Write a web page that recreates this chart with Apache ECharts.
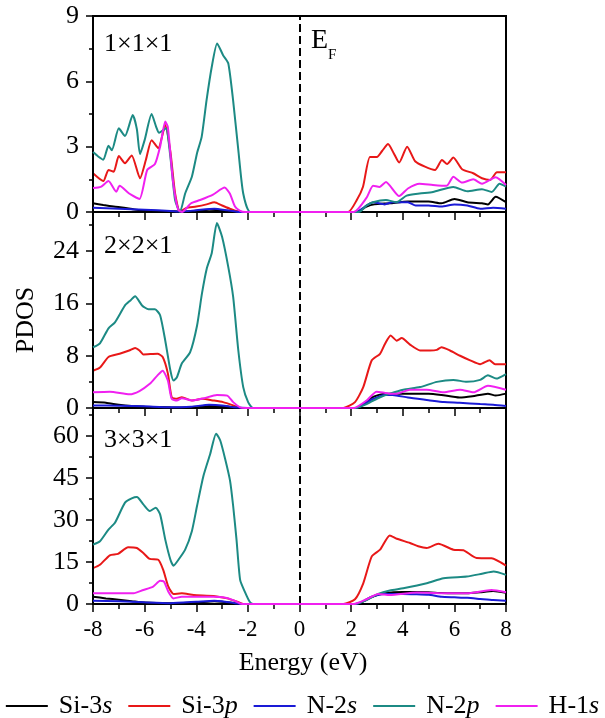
<!DOCTYPE html>
<html>
<head>
<meta charset="utf-8">
<script src="https://cdn.jsdelivr.net/npm/echarts@6/dist/echarts.min.js"></script>
<style>html,body{margin:0;padding:0;background:#fff}#c{width:605px;height:718px}</style>
</head>
<body>
<div id="c"></div>
<script>
// ---------- data ----------
const seriesNames = ['Si-3s', 'Si-3p', 'N-2s', 'N-2p', 'H-1s'];
const panelLabels = ['1×1×1', '2×2×1', '3×3×1'];
const xTicks = [-8, -6, -4, -2, 0, 2, 4, 6, 8];
const yMax = [9, 30, 70];
const yMajorTicks = [[0, 3, 6, 9], [0, 8, 16, 24], [0, 15, 30, 45, 60]];
const yMinorTicks = [[1.5, 4.5, 7.5], [4, 12, 20, 28], [7.5, 22.5, 37.5, 52.5, 67.5]];

// Panel 1 (1x1x1)
const p1_Si3s = [[-8,0.4],[-7.6,0.32],[-7.2,0.25],[-6.8,0.2],[-6.4,0.12],[-6,0.08],[-5.5,0.05],[-5,0.04],[-4.6,0.02],[-4,0.06],[-3.5,0.1],[-3,0.08],[-2.6,0.03],[-2.2,0],[0,0],[2.2,0],[2.6,0.25],[2.9,0.35],[3.5,0.4],[4.2,0.48],[5,0.48],[5.5,0.4],[6,0.6],[6.5,0.45],[7.07,0.4],[7.3,0.35],[7.6,0.7],[8,0.45]];
const p1_Si3p = [[-8,1.78],[-7.6,1.42],[-7.4,1.93],[-7.2,1.85],[-7.0,2.57],[-6.76,2.24],[-6.5,2.6],[-6.18,1.55],[-5.95,2.4],[-5.73,3.3],[-5.47,2.93],[-5.2,4.0],[-5.0,2.75],[-4.82,0.85],[-4.63,0],[-4.4,0.18],[-4.0,0.25],[-3.6,0.35],[-3.3,0.45],[-3.0,0.3],[-2.7,0.15],[-2.3,0],[0,0],[1.88,0],[2.22,0.55],[2.46,1.16],[2.73,2.53],[3.0,2.53],[3.2,2.8],[3.43,3.12],[3.65,2.7],[3.86,2.27],[4.17,3.0],[4.48,2.33],[4.86,2.08],[5.25,1.93],[5.52,2.39],[5.72,2.2],[5.96,2.5],[6.3,1.96],[6.73,1.78],[7.07,1.55],[7.38,1.47],[7.65,1.82],[8,1.82]];
const p1_N2s = [[-8,0.2],[-7,0.15],[-6,0.1],[-5,0.05],[-4.6,0.02],[-4,0.08],[-3.3,0.15],[-2.8,0.08],[-2.3,0],[0,0],[2.2,0],[2.6,0.3],[2.85,0.45],[3.3,0.35],[3.6,0.45],[4.2,0.45],[4.5,0.3],[5.0,0.3],[5.5,0.25],[6.0,0.35],[6.5,0.3],[7.0,0.15],[7.5,0.2],[8,0.15]];
const p1_N2p = [[-8,2.75],[-7.8,2.55],[-7.6,2.4],[-7.4,3.04],[-7.27,2.84],[-7.0,3.84],[-6.76,3.49],[-6.46,4.45],[-6.3,3.8],[-6.18,2.66],[-6.0,3.3],[-5.73,4.5],[-5.55,3.9],[-5.44,3.64],[-5.18,3.84],[-5.0,2.5],[-4.82,0.55],[-4.63,0],[-4.43,0.85],[-4.17,1.62],[-3.97,2.7],[-3.79,3.45],[-3.6,5.14],[-3.4,6.66],[-3.19,7.74],[-2.96,7.2],[-2.76,6.83],[-2.57,5.1],[-2.37,2.84],[-2.18,0.85],[-1.9,0],[0,0],[2.3,0],[2.6,0.3],[2.85,0.45],[3.35,0.55],[3.75,0.45],[4.15,0.75],[4.65,0.85],[5.17,0.92],[5.96,1.15],[6.5,0.95],[7.07,1.05],[7.45,0.92],[7.75,1.3],[8,1.17]];
const p1_H1s = [[-8,1.1],[-7.7,1.15],[-7.4,1.42],[-7.1,0.93],[-6.97,1.2],[-6.6,0.85],[-6.2,0.6],[-5.9,1.93],[-5.6,2.2],[-5.4,3.0],[-5.2,4.15],[-5.1,3.9],[-4.9,1.4],[-4.7,0.1],[-4.55,0],[-4.2,0.4],[-3.85,0.55],[-3.35,0.8],[-2.9,1.12],[-2.7,0.85],[-2.5,0.25],[-2.3,0.05],[-2.1,0],[0,0],[2.1,0],[2.6,0.66],[2.85,1.2],[3.1,1.15],[3.35,1.38],[3.86,0.73],[4.2,1.08],[4.65,1.3],[5.17,1.24],[5.7,1.2],[5.96,1.62],[6.3,1.35],[6.73,1.5],[7.07,1.3],[7.6,1.6],[8,1.24]];

// Panel 2 (2x2x1)
const p2_Si3s = [[-8,0.9],[-7.5,0.8],[-7,0.5],[-6.5,0.3],[-6,0.2],[-5,0.1],[-4,0.05],[-3.5,0.3],[-3,0.3],[-2.5,0.1],[-2.2,0],[0,0],[2.2,0],[2.8,1.6],[3.3,2.2],[3.8,2.2],[4.5,2.2],[5.0,2.2],[5.5,2.0],[6.2,1.6],[6.7,1.8],[7.3,2.2],[7.6,1.9],[8,2.2]];
const p2_Si3p = [[-8,5.7],[-7.73,6.2],[-7.4,7.8],[-6.97,8.3],[-6.6,8.8],[-6.37,9.2],[-6.2,8.8],[-6.05,8.2],[-5.5,8.3],[-5.3,7.8],[-5.1,5.3],[-4.95,1.65],[-4.75,1.4],[-4.56,1.65],[-4.17,1.15],[-3.78,1.4],[-3.33,1.15],[-2.96,0.9],[-2.57,0.4],[-2.3,0],[0,0],[1.7,0],[2.15,0.9],[2.47,3.2],[2.8,7.3],[3.12,8.3],[3.31,9.8],[3.53,11.1],[3.77,10.3],[3.96,10.7],[4.28,9.7],[4.67,8.8],[5.06,8.8],[5.32,8.9],[5.5,9.3],[5.83,8.8],[6.22,8.0],[6.61,7.3],[7.0,6.7],[7.36,7.3],[7.58,6.7],[8,6.7]];
const p2_N2s = [[-8,0.4],[-7,0.35],[-6,0.25],[-5,0.1],[-4.2,0.2],[-3.5,0.5],[-3,0.4],[-2.5,0.1],[-2,0],[0,0],[2.2,0],[2.8,1.3],[3.3,2.0],[3.6,2.0],[4.2,1.6],[5.0,1.2],[5.6,0.9],[6.2,0.8],[7.0,0.6],[7.5,0.5],[8,0.3]];
const p2_N2p = [[-8,9.3],[-7.73,9.9],[-7.4,12.2],[-7.15,13.1],[-6.76,15.7],[-6.54,16.5],[-6.37,17.1],[-6.1,15.7],[-5.85,15.1],[-5.6,15.1],[-5.4,14.2],[-5.2,10.3],[-5.0,5.7],[-4.88,4.2],[-4.75,4.7],[-4.56,6.8],[-4.24,8.5],[-3.97,12.6],[-3.78,17.5],[-3.59,21.4],[-3.4,23.7],[-3.2,28.3],[-3.0,26.2],[-2.76,21.6],[-2.57,17.0],[-2.37,8.8],[-2.18,3.2],[-1.99,0.9],[-1.8,0],[0,0],[2.15,0],[2.6,0.6],[3.12,1.65],[3.5,2.2],[4.02,2.8],[4.67,3.2],[5.32,4.0],[5.96,4.3],[6.48,4.0],[7.0,4.3],[7.3,5.0],[7.62,4.5],[8,5.2]];
const p2_H1s = [[-8,2.4],[-7.35,2.5],[-6.58,2.1],[-6.2,2.6],[-5.8,3.7],[-5.5,5.0],[-5.3,5.7],[-5.1,4.2],[-4.95,1.4],[-4.75,1.15],[-4.56,1.5],[-4.17,1.15],[-3.7,1.5],[-3.2,2.0],[-2.8,1.9],[-2.57,0.9],[-2.3,0.1],[-2.1,0],[0,0],[2.1,0],[2.6,1.15],[2.99,2.5],[3.5,2.2],[3.77,2.2],[4.28,2.8],[4.93,2.8],[5.58,2.4],[6.22,2.8],[6.74,2.4],[7.3,3.4],[8,2.8]];

// Panel 3 (3x3x1)
const p3_Si3s = [[-8,2.6],[-7.5,2.0],[-7,1.5],[-6.5,1.0],[-6,0.5],[-5,0.3],[-4,0.5],[-3.3,1.0],[-3,0.8],[-2.5,0.2],[-2.2,0],[0,0],[2.2,0],[2.8,2.5],[3.3,3.8],[4.0,4.3],[4.5,4.3],[5.0,4.2],[5.5,3.9],[6.0,3.8],[6.5,3.8],[7.0,4.2],[7.5,4.6],[8,4.0]];
const p3_Si3p = [[-8,12.8],[-7.73,14.0],[-7.35,17.4],[-7.03,17.9],[-6.64,20.3],[-6.3,20.0],[-6.05,18.2],[-5.8,16.1],[-5.47,15.8],[-5.28,12.2],[-5.08,6.2],[-4.88,3.6],[-4.56,3.8],[-4.1,3.2],[-3.33,2.9],[-2.8,2.0],[-2.44,0.9],[-2.18,0],[0,0],[1.7,0],[2.15,1.7],[2.47,7.4],[2.8,17.0],[3.12,19.4],[3.5,24.5],[3.77,23.3],[4.28,21.8],[4.6,20.6],[4.93,20.0],[5.38,21.5],[5.96,19.4],[6.35,19.2],[6.86,16.4],[7.44,16.3],[8,13.7]];
const p3_N2s = [[-8,1.2],[-7,1.0],[-6,0.6],[-5,0.3],[-4,0.8],[-3.3,1.2],[-3,1.0],[-2.5,0.3],[-2.2,0],[0,0],[2.2,0],[2.8,2.6],[3.3,3.6],[4.0,3.6],[4.5,3.5],[5.0,3.3],[5.5,2.6],[6.0,2.4],[6.5,2.2],[7.0,1.8],[7.5,1.4],[8,1.2]];
const p3_N2p = [[-8,21.2],[-7.73,22.4],[-7.4,26.6],[-7.15,29.0],[-6.76,36.2],[-6.5,37.7],[-6.3,38.2],[-6.05,35.6],[-5.8,33.2],[-5.57,34.4],[-5.4,32.0],[-5.2,23.0],[-5.0,15.8],[-4.88,13.7],[-4.69,15.8],[-4.43,19.4],[-4.17,26.0],[-3.97,35.0],[-3.72,45.8],[-3.46,53.6],[-3.23,60.8],[-3.07,58.4],[-2.88,51.8],[-2.69,44.0],[-2.57,35.0],[-2.44,23.0],[-2.3,8.6],[-2.12,4.4],[-1.93,0.8],[-1.8,0],[0,0],[2.15,0],[2.6,1.4],[3.05,3.6],[3.5,4.8],[4.02,5.6],[4.93,7.4],[5.58,9.2],[6.48,9.8],[7.07,10.8],[7.52,11.6],[8,10.4]];
const p3_H1s = [[-8,3.8],[-6.43,3.8],[-6.05,5.0],[-5.67,6.2],[-5.4,8.3],[-5.25,8.0],[-5.08,4.4],[-4.88,2.0],[-4.56,2.6],[-4.1,2.6],[-3.33,2.6],[-2.96,2.4],[-2.57,1.4],[-2.3,0.2],[-2.1,0],[0,0],[2.1,0],[2.6,1.7],[3.05,3.6],[3.5,3.2],[4.54,4.1],[5.83,3.8],[6.48,3.8],[7.44,5.0],[8,4.2]];

const panels = [
  [p1_Si3s, p1_Si3p, p1_N2s, p1_N2p, p1_H1s],
  [p2_Si3s, p2_Si3p, p2_N2s, p2_N2p, p2_H1s],
  [p3_Si3s, p3_Si3p, p3_N2s, p3_N2p, p3_H1s]
];

// ---------- style ----------
const colors = ['#000000', '#e81818', '#1a1ad6', '#1c8a84', '#f020f0'];
const FONT = '"Liberation Serif", "Times New Roman", serif';
const PLOT_LEFT = 93, PLOT_W = 413, PANEL_H = 196;
const panelTop = [16, 212, 408];
const labelY = [44, 246, 440];

const chart = echarts.init(document.getElementById('c'), null, { renderer: 'canvas' });

const grids = [], xAxes = [], yAxes = [], series = [];

for (let i = 0; i < 3; i++) {
  grids.push({ left: PLOT_LEFT, top: panelTop[i], width: PLOT_W, height: PANEL_H,
    show: true, borderColor: '#000', borderWidth: 2, backgroundColor: 'transparent', z: 0 });
  xAxes.push({
    type: 'value', gridIndex: i, min: xTicks[0], max: xTicks[xTicks.length - 1], interval: 2,
    z: 5,
    axisLine: { show: true, onZero: false, lineStyle: { color: '#000', width: 2 } },
    axisTick: { show: true, inside: false, length: 8, lineStyle: { color: '#000', width: 1.5, opacity: 1 } },
    minorTick: { show: true, splitNumber: 2, length: 5, lineStyle: { color: '#000', width: 1.5, opacity: 1 } },
    axisLabel: { show: i === 2, fontSize: 23, fontFamily: FONT, color: '#000', margin: 14 },
    splitLine: { show: false }
  });
  yAxes.push({
    type: 'value', gridIndex: i, min: 0, max: yMax[i], position: 'left', interval: yMajorTicks[i][1],
    z: 5,
    axisLine: { show: true, onZero: false, lineStyle: { color: '#000', width: 2 } },
    axisTick: { show: true, inside: false, length: 7, lineStyle: { color: '#000', width: 1.5, opacity: 1 } },
    minorTick: { show: true, splitNumber: 2, length: 4, lineStyle: { color: '#000', width: 1.5, opacity: 1 } },
    axisLabel: { showMaxLabel: yMax[i] === yMajorTicks[i][yMajorTicks[i].length - 1],
      fontSize: 26, fontFamily: FONT, color: '#000', margin: 14 },
    splitLine: { show: false }
  });
  panels[i].forEach((data, k) => {
    const s = {
      type: 'line', name: seriesNames[k], data: data,
      xAxisIndex: i, yAxisIndex: i,
      showSymbol: false, symbol: 'none', smooth: 0.2,
      color: colors[k],
      lineStyle: { color: colors[k], width: 2 },
      animation: false, z: 3 + k
    };
    if (k === 0) {
      s.markLine = {
        silent: true, symbol: ['none', 'none'], label: { show: false },
        lineStyle: { type: 'dashed', color: '#000', width: 2 },
        data: [{ xAxis: 0 }]
      };
    }
    series.push(s);
  });
}

const graphics = [
  { type: 'text', x: 26, y: 320, rotation: Math.PI / 2,
    style: { text: 'PDOS', font: '26px ' + FONT, fill: '#000', align: 'center', verticalAlign: 'middle' } },
  { type: 'text', x: 303, y: 663,
    style: { text: 'Energy (eV)', font: '26px ' + FONT, fill: '#000', align: 'center', verticalAlign: 'middle' } },
  { type: 'text', x: 311, y: 41,
    style: { text: 'E', font: '28px ' + FONT, fill: '#000', align: 'left', verticalAlign: 'middle' } },
  { type: 'text', x: 328, y: 55,
    style: { text: 'F', font: '15px ' + FONT, fill: '#000', align: 'left', verticalAlign: 'middle' } }
];
panelLabels.forEach((t, i) => graphics.push({
  type: 'text', x: 104, y: labelY[i],
  style: { text: t, font: '26px ' + FONT, fill: '#000', align: 'left', verticalAlign: 'middle' }
}));

chart.setOption({
  backgroundColor: '#fff',
  animation: false,
  grid: grids,
  xAxis: xAxes,
  yAxis: yAxes,
  series: series,
  graphic: graphics,
  legend: {
    data: seriesNames, top: 688, left: 'center',
    icon: 'rect', itemWidth: 42, itemHeight: 2, itemGap: 16,
    formatter: function (name) {
      const m = name.match(/^(.*\d)([sp])$/);
      return '{n|' + m[1] + '}{i|' + m[2] + '}';
    },
    textStyle: {
      color: '#000', fontSize: 26, fontFamily: FONT,
      rich: {
        n: { fontSize: 26, fontFamily: FONT, color: '#000', padding: [0, 0, 0, 6] },
        i: { fontSize: 26, fontFamily: FONT, fontStyle: 'italic', color: '#000' }
      }
    }
  }
});
</script>
</body>
</html>
